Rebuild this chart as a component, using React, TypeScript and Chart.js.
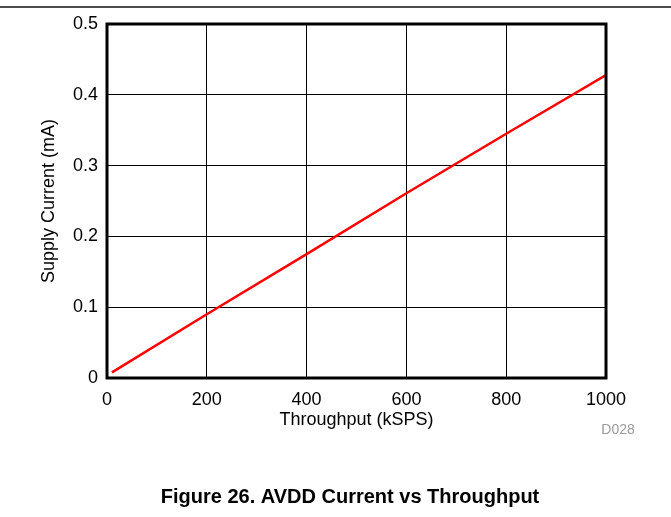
import React, { useEffect, useRef } from "react";
import { Chart, registerables } from "chart.js";

Chart.register(...registerables);

const throughputKSPS = [10, 200, 400, 600, 800, 1000];
const supplyCurrentMA = [0.008, 0.09, 0.175, 0.261, 0.345, 0.428];
const xTickValues = [0, 200, 400, 600, 800, 1000];
const yTickValues = [0, 0.1, 0.2, 0.3, 0.4, 0.5];

const xTitle = "Throughput (kSPS)";
const yTitle = "Supply Current (mA)";
const caption = "Figure 26. AVDD Current vs Throughput";
const figureId = "D028";

const FONT = "Arial, 'Liberation Sans', sans-serif";

export default function App() {
  const ref = useRef<HTMLCanvasElement | null>(null);

  useEffect(() => {
    const canvas = ref.current;
    if (!canvas) return;

    const decor = {
      id: "decor",
      beforeDraw(chart: any) {
        const ctx = chart.ctx;
        ctx.save();
        ctx.fillStyle = "#ffffff";
        ctx.fillRect(0, 0, chart.width, chart.height);
        ctx.strokeStyle = "#111111";
        ctx.lineWidth = 1.3;
        ctx.beginPath();
        ctx.moveTo(0, 7);
        ctx.lineTo(chart.width, 7);
        ctx.stroke();
        ctx.restore();
      },
      afterDraw(chart: any) {
        const ctx = chart.ctx;
        const a = chart.chartArea;
        ctx.save();
        ctx.strokeStyle = "#000000";
        ctx.lineWidth = 3;
        ctx.strokeRect(a.left, a.top, a.right - a.left, a.bottom - a.top);

        ctx.fillStyle = "#9a9a9a";
        ctx.font = `14px ${FONT}`;
        ctx.textAlign = "center";
        ctx.textBaseline = "middle";
        ctx.fillText(figureId, 618, 430);

        ctx.fillStyle = "#000000";
        ctx.font = `bold 20px ${FONT}`;
        ctx.fillText(caption, 350, 497);
        ctx.restore();
      },
    };

    const chart = new Chart(canvas, {
      type: "line",
      data: {
        datasets: [
          {
            data: throughputKSPS.map((x, i) => ({ x, y: supplyCurrentMA[i] })),
            borderColor: "#ff0000",
            borderWidth: 2.5,
            pointRadius: 0,
            fill: false,
            tension: 0,
          },
        ],
      },
      options: {
        responsive: false,
        animation: false,
        layout: { padding: { left: 38, top: 24, right: 65, bottom: 86 } },
        plugins: {
          legend: { display: false },
          tooltip: { enabled: false },
          title: { display: false },
        },
        scales: {
          x: {
            type: "linear",
            min: 0,
            max: 1000,
            afterFit: (s: any) => {
              s.height = 53;
            },
            afterBuildTicks: (s: any) => {
              s.ticks = xTickValues.map((v) => ({ value: v }));
            },
            ticks: {
              color: "#000",
              font: { family: FONT, size: 18 },
              padding: 11,
              maxRotation: 0,
              autoSkip: false,
              callback: (v: any) => String(v),
            },
            grid: { color: "#000", lineWidth: 1, drawTicks: false },
            border: { display: false },
            title: {
              display: true,
              text: xTitle,
              color: "#000",
              font: { family: FONT, size: 18 },
              padding: { top: 0, bottom: 0 },
            },
          },
          y: {
            type: "linear",
            min: 0,
            max: 0.5,
            afterFit: (s: any) => {
              s.width = 69;
            },
            afterBuildTicks: (s: any) => {
              s.ticks = yTickValues.map((v) => ({ value: v }));
            },
            ticks: {
              color: "#000",
              font: { family: FONT, size: 18 },
              padding: 9,
              autoSkip: false,
              callback: (v: any) => String(Math.round(Number(v) * 10) / 10),
            },
            grid: { color: "#000", lineWidth: 1, drawTicks: false },
            border: { display: false },
            title: {
              display: true,
              text: yTitle,
              color: "#000",
              font: { family: FONT, size: 18 },
              padding: { top: 0, bottom: 0 },
            },
          },
        },
      },
      plugins: [decor],
    });

    return () => chart.destroy();
  }, []);

  return (
    <div style={{ position: "absolute", left: 0, top: 0, width: 671, height: 517 }}>
      <canvas ref={ref} width={671} height={517} style={{ display: "block" }} />
    </div>
  );
}
